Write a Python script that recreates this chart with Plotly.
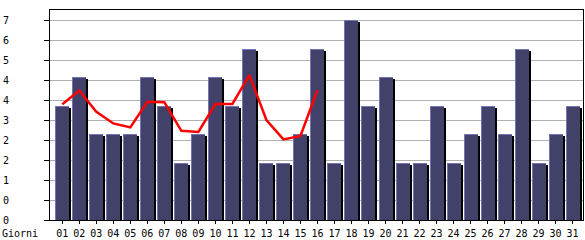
import plotly.graph_objects as go

days = ["01","02","03","04","05","06","07","08","09","10","11","12","13","14","15","16",
        "17","18","19","20","21","22","23","24","25","26","27","28","29","30","31"]
counts = [4,5,3,3,3,5,4,2,3,5,4,6,2,2,3,6,2,7,4,5,2,2,4,2,3,4,3,6,2,3,4]
trend_days = days[:16]
trend = [4.05,4.53,3.79,3.38,3.24,4.14,4.12,3.12,3.08,4.06,4.06,5.07,3.5,2.82,2.94,4.55]
ytick_vals = [0,0.7,1.4,2.1,2.8,3.5,4.2,4.9,5.6,6.3,7.0]
ytick_text = ["0","0","1","2","2","3","4","4","5","6","7"]

xpos = list(range(1, len(days)+1))
tx = [days.index(d)+1 for d in trend_days]

PX_X = 1/17.01          # one pixel in x data units
PX_Y = 7.35/210         # one pixel in y data units

fig = go.Figure()
# shadow
fig.add_trace(go.Bar(x=xpos, y=[v-2*PX_Y for v in counts], width=9*PX_X, offset=0*PX_X,
                     marker=dict(color="#000000", line=dict(width=0)), hoverinfo="skip"))
# highlight
fig.add_trace(go.Bar(x=xpos, y=counts, width=14*PX_X, offset=-7*PX_X,
                     marker=dict(color="#7474b4", line=dict(width=0)), hoverinfo="skip"))
# body
fig.add_trace(go.Bar(x=xpos, y=[v-PX_Y for v in counts], width=13*PX_X, offset=-6*PX_X,
                     marker=dict(color="#41416a", line=dict(width=0))))
# trend line
fig.add_trace(go.Scatter(x=tx, y=trend, mode="lines",
                         line=dict(color="#ff0000", width=2.5)))

font = dict(family="DejaVu Sans Mono", size=10, color="#000000")
fig.update_layout(
    width=585, height=240,
    margin=dict(l=50, r=2, t=10, b=20),
    paper_bgcolor="#ffffff", plot_bgcolor="#ffffff",
    barmode="overlay", bargap=0, showlegend=False,
    font=font,
    xaxis=dict(range=[0.277, 31.61], tickvals=xpos, ticktext=days,
               showgrid=False, zeroline=False, showline=True, linecolor="#000000",
               linewidth=1, mirror=True, ticks="outside", ticklen=3,
               tickcolor="#000000", tickfont=font, ticklabelstandoff=1),
    yaxis=dict(range=[0, 7.35], tickvals=ytick_vals, ticktext=ytick_text,
               showgrid=True, gridcolor="#b0b0b0", gridwidth=1, zeroline=False,
               showline=True, linecolor="#000000", linewidth=1, mirror=True,
               ticks="outside", ticklen=5, tickcolor="#000000", tickfont=font,
               ticklabelstandoff=33),
    annotations=[dict(text="Giorni", xref="paper", yref="paper",
                      x=-50/533, y=-13/210, xanchor="left", yanchor="middle",
                      showarrow=False, font=font)],
)
fig.write_html("out.html")
